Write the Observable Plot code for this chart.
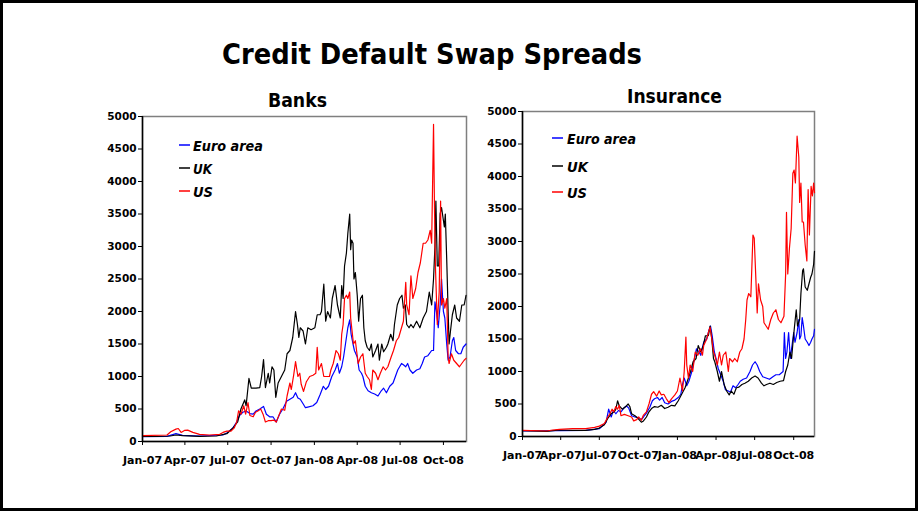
<!DOCTYPE html>
<html><head><meta charset="utf-8">
<script src="https://cdn.jsdelivr.net/npm/d3@7"></script>
<script src="https://cdn.jsdelivr.net/npm/@observablehq/plot@0.6"></script>
<style>
body{margin:0;background:#fff;}
#page{position:relative;width:918px;height:511px;overflow:hidden;background:#fff;}
.panel{position:absolute;}
#overlay{position:absolute;left:0;top:0;}
</style>
</head><body>
<div id="page">
<div id="banks" class="panel" style="left:0;top:80px"></div>
<div id="ins" class="panel" style="left:480px;top:80px"></div>
<svg id="overlay" width="918" height="511"></svg>
</div>
<script>
const title = "Credit Default Swap Spreads";
const panelTitles = ["Banks", "Insurance"];
const seriesNames = ["Euro area", "UK", "US"];
const seriesColors = ["#0000ff", "#000000", "#ff0000"];
const yTicks = [0,500,1000,1500,2000,2500,3000,3500,4000,4500,5000];
const tickDates = ["2007-01-01","2007-04-01","2007-07-01","2007-10-01","2008-01-01","2008-04-01","2008-07-01","2008-10-01"];
const tickLabels = ["Jan-07","Apr-07","Jul-07","Oct-07","Jan-08","Apr-08","Jul-08","Oct-08"];
const xDomain = ["2007-01-01","2008-11-19"];

// Banks
const banksEuro = [["2007-01-01",75],["2007-02-22",80],["2007-03-13",120],["2007-03-27",95],["2007-05-02",85],["2007-06-21",100],["2007-06-29",130],["2007-07-11",200],["2007-07-20",300],["2007-07-26",400],["2007-08-02",450],["2007-08-09",470],["2007-08-17",430],["2007-08-24",420],["2007-08-30",470],["2007-09-07",500],["2007-09-15",540],["2007-09-21",420],["2007-09-28",380],["2007-10-05",380],["2007-10-12",300],["2007-10-19",420],["2007-10-26",500],["2007-11-03",620],["2007-11-10",650],["2007-11-17",680],["2007-11-22",750],["2007-11-27",670],["2007-12-02",650],["2007-12-08",580],["2007-12-13",520],["2007-12-18",530],["2007-12-29",550],["2008-01-06",600],["2008-01-13",720],["2008-01-20",850],["2008-01-25",800],["2008-01-31",850],["2008-02-07",1000],["2008-02-14",1100],["2008-02-19",1200],["2008-02-23",1050],["2008-02-28",1150],["2008-03-03",1300],["2008-03-07",1500],["2008-03-12",1750],["2008-03-16",1870],["2008-03-19",1650],["2008-03-23",1500],["2008-03-26",1400],["2008-04-01",1300],["2008-04-05",1100],["2008-04-10",1050],["2008-04-13",1000],["2008-04-18",850],["2008-04-24",780],["2008-05-01",750],["2008-05-08",730],["2008-05-15",700],["2008-05-22",780],["2008-05-27",820],["2008-06-02",750],["2008-06-09",850],["2008-06-16",900],["2008-06-21",1000],["2008-06-26",1100],["2008-07-04",1200],["2008-07-08",1180],["2008-07-13",1150],["2008-07-17",1200],["2008-07-22",1100],["2008-07-28",1050],["2008-08-05",1100],["2008-08-12",1120],["2008-08-17",1200],["2008-08-22",1300],["2008-08-29",1320],["2008-09-06",1400],["2008-09-10",1400],["2008-09-13",2150],["2008-09-17",1950],["2008-09-20",1750],["2008-09-24",2100],["2008-09-27",2500],["2008-10-01",2000],["2008-10-04",1900],["2008-10-08",1500],["2008-10-11",1250],["2008-10-15",1300],["2008-10-20",1550],["2008-10-23",1600],["2008-10-27",1400],["2008-11-02",1350],["2008-11-07",1350],["2008-11-12",1450],["2008-11-18",1500]];
const banksUK = [["2007-01-01",80],["2007-02-01",80],["2007-03-01",85],["2007-03-13",100],["2007-03-27",90],["2007-05-02",80],["2007-06-07",85],["2007-06-29",120],["2007-07-11",200],["2007-07-22",300],["2007-07-29",500],["2007-08-06",640],["2007-08-09",550],["2007-08-15",970],["2007-08-20",820],["2007-08-30",820],["2007-09-07",830],["2007-09-11",1000],["2007-09-15",1260],["2007-09-19",830],["2007-09-25",1050],["2007-09-28",900],["2007-10-03",1150],["2007-10-07",1100],["2007-10-11",680],["2007-10-16",900],["2007-10-23",1000],["2007-10-30",1100],["2007-11-04",1350],["2007-11-10",1400],["2007-11-16",1600],["2007-11-22",2000],["2007-11-26",1800],["2007-11-29",1600],["2007-12-02",1750],["2007-12-08",1700],["2007-12-13",1500],["2007-12-18",1750],["2007-12-25",1720],["2008-01-02",1750],["2008-01-07",1950],["2008-01-13",1950],["2008-01-16",2000],["2008-01-21",2420],["2008-01-25",1850],["2008-01-29",2000],["2008-02-04",1900],["2008-02-08",2200],["2008-02-14",2400],["2008-02-19",2100],["2008-02-25",1900],["2008-02-28",2400],["2008-03-02",2200],["2008-03-05",2700],["2008-03-09",2900],["2008-03-12",3200],["2008-03-16",3500],["2008-03-18",2950],["2008-03-20",3100],["2008-03-23",3050],["2008-03-25",2500],["2008-03-28",2600],["2008-04-01",2250],["2008-04-04",1850],["2008-04-08",2200],["2008-04-12",2250],["2008-04-15",1750],["2008-04-18",1550],["2008-04-22",1450],["2008-04-27",1400],["2008-05-01",1500],["2008-05-04",1300],["2008-05-10",1400],["2008-05-15",1500],["2008-05-18",1250],["2008-05-23",1500],["2008-05-27",1380],["2008-06-02",1450],["2008-06-05",1500],["2008-06-11",1650],["2008-06-16",1550],["2008-06-19",1800],["2008-06-25",2100],["2008-06-30",2200],["2008-07-05",2250],["2008-07-08",2050],["2008-07-12",2100],["2008-07-15",1800],["2008-07-20",1750],["2008-07-24",1800],["2008-07-29",1750],["2008-08-05",1850],["2008-08-12",1750],["2008-08-19",1900],["2008-08-26",2000],["2008-09-01",2300],["2008-09-06",2100],["2008-09-10",2500],["2008-09-13",3000],["2008-09-15",3700],["2008-09-18",2700],["2008-09-21",2700],["2008-09-24",3500],["2008-09-27",3600],["2008-10-01",3400],["2008-10-03",3300],["2008-10-05",3500],["2008-10-08",2800],["2008-10-11",2000],["2008-10-13",1500],["2008-10-16",1700],["2008-10-20",1950],["2008-10-25",2100],["2008-10-29",1900],["2008-11-04",1850],["2008-11-09",2100],["2008-11-14",2100],["2008-11-18",2250]];
const banksUS = [["2007-01-01",90],["2007-02-22",100],["2007-03-02",150],["2007-03-13",190],["2007-03-18",200],["2007-03-24",140],["2007-03-31",170],["2007-04-07",175],["2007-04-18",140],["2007-05-02",110],["2007-05-23",100],["2007-06-14",110],["2007-06-21",140],["2007-06-29",160],["2007-07-08",160],["2007-07-15",210],["2007-07-20",300],["2007-07-24",470],["2007-07-29",420],["2007-08-04",550],["2007-08-08",420],["2007-08-13",600],["2007-08-17",400],["2007-08-24",380],["2007-08-29",450],["2007-09-03",470],["2007-09-09",500],["2007-09-14",420],["2007-09-19",300],["2007-09-25",320],["2007-10-01",320],["2007-10-07",330],["2007-10-12",300],["2007-10-17",390],["2007-10-23",500],["2007-10-30",480],["2007-11-04",700],["2007-11-10",900],["2007-11-13",800],["2007-11-18",1020],["2007-11-22",1230],["2007-11-27",1000],["2007-12-01",1050],["2007-12-04",880],["2007-12-09",770],["2007-12-15",920],["2007-12-22",1000],["2007-12-29",1020],["2008-01-04",1050],["2008-01-07",1450],["2008-01-10",1100],["2008-01-16",1200],["2008-01-21",1000],["2008-01-27",1000],["2008-02-02",1000],["2008-02-05",1100],["2008-02-10",1200],["2008-02-16",1400],["2008-02-21",1350],["2008-02-25",1250],["2008-02-28",1650],["2008-03-02",1800],["2008-03-05",2200],["2008-03-09",2250],["2008-03-12",2200],["2008-03-16",2300],["2008-03-18",1900],["2008-03-21",1700],["2008-03-24",1500],["2008-03-28",1550],["2008-04-03",1200],["2008-04-08",1300],["2008-04-13",1350],["2008-04-18",1050],["2008-04-22",1000],["2008-04-27",950],["2008-05-01",800],["2008-05-04",1100],["2008-05-10",1050],["2008-05-15",950],["2008-05-20",1050],["2008-05-26",1150],["2008-05-31",1100],["2008-06-05",1150],["2008-06-12",1300],["2008-06-17",1400],["2008-06-23",1550],["2008-06-28",1600],["2008-07-04",1750],["2008-07-08",1850],["2008-07-13",2450],["2008-07-15",2100],["2008-07-20",1950],["2008-07-24",2550],["2008-07-28",2200],["2008-08-03",2350],["2008-08-08",2600],["2008-08-13",2750],["2008-08-19",3050],["2008-08-24",3050],["2008-08-29",3100],["2008-09-03",3250],["2008-09-06",3050],["2008-09-10",4880],["2008-09-12",3600],["2008-09-14",2700],["2008-09-18",1800],["2008-09-22",2300],["2008-09-25",3700],["2008-09-27",2100],["2008-10-01",2200],["2008-10-04",2050],["2008-10-08",2200],["2008-10-11",1300],["2008-10-13",1200],["2008-10-18",1350],["2008-10-23",1250],["2008-10-29",1200],["2008-11-04",1150],["2008-11-09",1200],["2008-11-14",1250],["2008-11-18",1280]];

// Insurance
const insEuro = [["2007-01-01",85],["2007-03-29",90],["2007-05-30",95],["2007-07-01",120],["2007-07-17",220],["2007-07-23",420],["2007-07-29",300],["2007-08-03",400],["2007-08-09",350],["2007-08-15",400],["2007-08-21",380],["2007-08-27",430],["2007-09-03",470],["2007-09-08",440],["2007-09-15",320],["2007-09-23",300],["2007-09-30",290],["2007-10-08",260],["2007-10-13",300],["2007-10-20",360],["2007-10-28",450],["2007-11-03",550],["2007-11-08",580],["2007-11-15",600],["2007-11-20",560],["2007-11-26",600],["2007-12-02",520],["2007-12-10",500],["2007-12-18",540],["2007-12-26",560],["2008-01-03",600],["2008-01-09",650],["2008-01-13",800],["2008-01-17",900],["2008-01-23",780],["2008-01-28",850],["2008-02-04",1000],["2008-02-10",1200],["2008-02-15",1350],["2008-02-21",1300],["2008-02-25",1250],["2008-03-03",1450],["2008-03-10",1500],["2008-03-16",1650],["2008-03-19",1700],["2008-03-23",1550],["2008-03-28",1300],["2008-04-01",1200],["2008-04-06",1050],["2008-04-12",950],["2008-04-18",850],["2008-04-23",720],["2008-04-30",700],["2008-05-05",680],["2008-05-11",780],["2008-05-17",750],["2008-05-23",800],["2008-05-28",850],["2008-06-04",880],["2008-06-12",900],["2008-06-20",1000],["2008-06-26",1100],["2008-07-02",1150],["2008-07-07",1100],["2008-07-13",1000],["2008-07-20",920],["2008-07-28",900],["2008-08-05",880],["2008-08-13",920],["2008-08-20",950],["2008-08-28",950],["2008-09-06",1000],["2008-09-09",1600],["2008-09-12",1200],["2008-09-15",1300],["2008-09-19",1600],["2008-09-23",1200],["2008-09-27",1400],["2008-10-01",1600],["2008-10-04",1450],["2008-10-09",1600],["2008-10-13",1800],["2008-10-15",1500],["2008-10-18",1550],["2008-10-21",1830],["2008-10-24",1700],["2008-10-28",1500],["2008-11-02",1450],["2008-11-06",1400],["2008-11-10",1450],["2008-11-13",1500],["2008-11-17",1550],["2008-11-19",1650]];
const insUK = [["2007-01-01",90],["2007-02-27",80],["2007-03-29",100],["2007-04-29",95],["2007-05-30",95],["2007-06-20",110],["2007-07-01",130],["2007-07-13",180],["2007-07-21",280],["2007-07-29",350],["2007-08-05",380],["2007-08-09",420],["2007-08-13",550],["2007-08-17",470],["2007-08-24",420],["2007-09-01",460],["2007-09-07",500],["2007-09-11",460],["2007-09-15",350],["2007-09-23",320],["2007-09-30",280],["2007-10-08",220],["2007-10-13",240],["2007-10-20",300],["2007-10-26",380],["2007-11-01",430],["2007-11-08",460],["2007-11-16",450],["2007-11-24",480],["2007-12-02",430],["2007-12-10",450],["2007-12-18",480],["2007-12-26",470],["2008-01-03",550],["2008-01-11",650],["2008-01-19",750],["2008-01-27",900],["2008-02-01",1000],["2008-02-07",1150],["2008-02-14",1200],["2008-02-19",1400],["2008-02-25",1300],["2008-03-02",1400],["2008-03-07",1550],["2008-03-14",1550],["2008-03-18",1700],["2008-03-22",1500],["2008-03-26",1200],["2008-03-29",1150],["2008-04-04",1000],["2008-04-09",850],["2008-04-14",1000],["2008-04-20",800],["2008-04-26",700],["2008-05-02",640],["2008-05-07",700],["2008-05-13",650],["2008-05-19",750],["2008-05-25",760],["2008-06-01",800],["2008-06-08",820],["2008-06-16",850],["2008-06-24",900],["2008-07-02",930],["2008-07-09",900],["2008-07-17",820],["2008-07-23",780],["2008-07-29",800],["2008-08-06",820],["2008-08-14",800],["2008-08-22",830],["2008-08-30",850],["2008-09-07",860],["2008-09-12",1000],["2008-09-17",1100],["2008-09-22",1300],["2008-09-26",1200],["2008-09-30",1500],["2008-10-03",1700],["2008-10-07",1950],["2008-10-10",1700],["2008-10-15",1800],["2008-10-18",2200],["2008-10-22",2550],["2008-10-24",2580],["2008-10-28",2300],["2008-11-02",2250],["2008-11-06",2350],["2008-11-10",2450],["2008-11-13",2500],["2008-11-17",2650],["2008-11-19",2850]];
const insUS = [["2007-01-01",95],["2007-02-27",85],["2007-03-13",100],["2007-03-29",110],["2007-04-29",120],["2007-05-30",120],["2007-06-20",140],["2007-07-01",160],["2007-07-13",200],["2007-07-21",300],["2007-07-26",350],["2007-07-31",420],["2007-08-04",380],["2007-08-09",460],["2007-08-13",420],["2007-08-17",480],["2007-08-21",320],["2007-08-29",340],["2007-09-07",320],["2007-09-15",300],["2007-09-20",240],["2007-09-27",260],["2007-10-02",300],["2007-10-08",250],["2007-10-13",330],["2007-10-20",380],["2007-10-26",500],["2007-11-01",650],["2007-11-06",690],["2007-11-13",620],["2007-11-19",700],["2007-11-24",640],["2007-11-30",650],["2007-12-06",580],["2007-12-12",520],["2007-12-18",580],["2007-12-26",640],["2008-01-01",700],["2008-01-07",900],["2008-01-13",700],["2008-01-17",1000],["2008-01-21",1530],["2008-01-23",1100],["2008-01-27",900],["2008-01-31",1100],["2008-02-06",1000],["2008-02-12",1300],["2008-02-18",1250],["2008-02-24",1350],["2008-02-29",1250],["2008-03-03",1400],["2008-03-10",1500],["2008-03-14",1600],["2008-03-18",1680],["2008-03-22",1500],["2008-03-26",1300],["2008-03-29",1250],["2008-04-04",1100],["2008-04-09",1300],["2008-04-14",1100],["2008-04-18",1250],["2008-04-24",1300],["2008-04-30",1000],["2008-05-03",1200],["2008-05-10",1150],["2008-05-15",1200],["2008-05-21",1150],["2008-05-27",1300],["2008-06-01",1350],["2008-06-06",1500],["2008-06-10",1800],["2008-06-13",2100],["2008-06-17",2200],["2008-06-22",2150],["2008-06-27",3100],["2008-06-30",3050],["2008-07-04",2400],["2008-07-07",1900],["2008-07-10",2350],["2008-07-15",2100],["2008-07-20",2000],["2008-07-23",1750],["2008-07-28",1700],["2008-08-02",1650],["2008-08-08",1800],["2008-08-14",1900],["2008-08-20",1950],["2008-08-26",1800],["2008-09-01",1750],["2008-09-08",1850],["2008-09-12",2500],["2008-09-14",3450],["2008-09-17",2500],["2008-09-21",2900],["2008-09-25",3200],["2008-09-29",4050],["2008-10-02",4100],["2008-10-05",3900],["2008-10-09",4620],["2008-10-13",4300],["2008-10-15",3600],["2008-10-18",3900],["2008-10-21",3300],["2008-10-24",3300],["2008-10-28",2950],["2008-11-01",2700],["2008-11-04",3800],["2008-11-07",3100],["2008-11-11",3850],["2008-11-14",3700],["2008-11-17",3900],["2008-11-19",3750]];

const parse = d3.utcParse("%Y-%m-%d");
const toRows = (pairs) => pairs.map(([d, v]) => ({date: parse(d), value: v}));
const tickDateObjs = tickDates.map(parse);
const labelMap = new Map(tickDateObjs.map((d, i) => [+d, tickLabels[i]]));
const FONT = "'DejaVu Sans', Verdana, sans-serif";

function panel(seriesPairs, opts) {
  const [x0, x1] = xDomain.map(parse);
  return Plot.plot({
    width: opts.width, height: opts.height,
    marginLeft: opts.ml, marginRight: opts.mr, marginTop: opts.mt, marginBottom: opts.mb,
    style: {fontFamily: FONT, fontSize: "10px", fontWeight: "bold", color: "black", background: "transparent", overflow: "visible"},
    x: {type: "utc", domain: [x0, x1]},
    y: {domain: [0, 5000]},
    marks: [
      Plot.frame({stroke: "#7f7f7f", strokeWidth: 1.5}),
      Plot.axisY({ticks: yTicks, tickFormat: d => String(d), tickSize: 4, tickPadding: 2, label: null, stroke: "black", fontSize: 10.5, fontWeight: "bold", fill: "black"}),
      Plot.axisX({ticks: tickDateObjs, tickFormat: d => labelMap.get(+d), tickSize: 4, tickPadding: 11, label: null, stroke: "black", fontSize: 11, fontWeight: "bold", fill: "black"}),
      ...seriesPairs.map((p, i) => Plot.line(toRows(p), {x: "date", y: "value", stroke: seriesColors[i], strokeWidth: 1.2})),
      Plot.ruleX([x0], {stroke: "black", strokeWidth: 1.5}),
      Plot.ruleY([0], {stroke: "black", strokeWidth: 1.5})
    ]
  });
}

document.getElementById("banks").appendChild(panel([banksEuro, banksUK, banksUS], {width: 480, height: 400, ml: 142, mr: 14, mt: 36, mb: 39}));
document.getElementById("ins").appendChild(panel([insEuro, insUK, insUS], {width: 438, height: 400, ml: 42, mr: 104, mt: 31, mb: 44}));

// overlay: border, titles, legends
const ov = d3.select("#overlay");
ov.append("rect").attr("x", 1.5).attr("y", 1.5).attr("width", 915).attr("height", 508)
  .attr("fill", "none").attr("stroke", "black").attr("stroke-width", 3);

function fitText(x, y, str, size, len, italic) {
  ov.append("text").attr("x", x).attr("y", y).text(str)
    .attr("font-family", FONT).attr("font-weight", "bold").attr("font-size", size)
    .attr("font-style", italic ? "italic" : "normal")
    .attr("textLength", len).attr("lengthAdjust", "spacingAndGlyphs").attr("fill", "black");
}
fitText(222, 64, title, 28, 420, false);
fitText(268, 107, panelTitles[0], 20, 59, false);
fitText(627, 103, panelTitles[1], 20, 95, false);

const legends = [
  {lx: 179, tx: 193, ys: [151, 174, 197], widths: [70, 19, 20]},
  {lx: 552, tx: 567, ys: [144, 172, 198], widths: [69, 21, 20]}
];
legends.forEach(L => {
  seriesNames.forEach((name, i) => {
    const y = L.ys[i];
    ov.append("line").attr("x1", L.lx).attr("x2", L.lx + 11).attr("y1", y - 6).attr("y2", y - 6)
      .attr("stroke", seriesColors[i]).attr("stroke-width", 1.5);
    fitText(L.tx, y, name, 14, L.widths[i], true);
  });
});
</script>
</body></html>
